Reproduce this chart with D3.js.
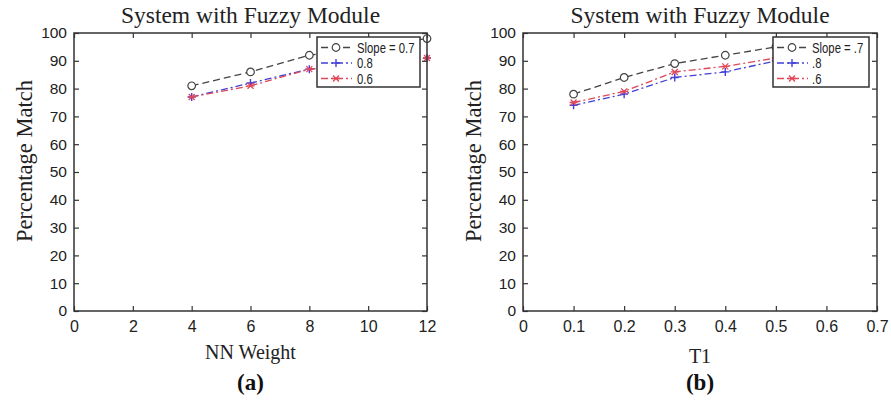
<!DOCTYPE html>
<html>
<head>
<meta charset="utf-8">
<script src="https://cdn.jsdelivr.net/npm/d3@7"></script>
<style>
  body { margin: 0; background: #fff; }
  svg { display: block; }
</style>
</head>
<body>
<svg id="chart" width="891" height="400"></svg>
<script>
// panel (a): NN weight
const weightX = [4, 6, 8, 10, 12];
const weightSlope07 = [81, 86, 92, 95, 98];
const weightSlope08 = [77, 82, 87, 89, 91];
const weightSlope06 = [77, 81, 87, 89, 91];
const weightTicks = [0, 2, 4, 6, 8, 10, 12];
const weightLegend = ['Slope = 0.7', '0.8', '0.6'];

// panel (b): T1
const t1X = [0.1, 0.2, 0.3, 0.4, 0.5];
const t1Slope07 = [78, 84, 89, 92, 95];
const t1Slope08 = [74, 78, 84, 86, 90];
const t1Slope06 = [75, 79, 86, 88, 91];
const t1Ticks = [0, 0.1, 0.2, 0.3, 0.4, 0.5, 0.6, 0.7];
const t1Legend = ['Slope = .7', '.8', '.6'];

const yTicks = [0, 10, 20, 30, 40, 50, 60, 70, 80, 90, 100];

const styles = [
  { color: '#444', dash: '7,4', marker: 'circle' },
  { color: '#4040d8', dash: '7,3,2,3', marker: 'plus' },
  { color: '#e0485a', dash: '7,3,2,3', marker: 'cross' }
];

const svg = d3.select('#chart');
const axisColor = '#333';
const sans = 'Liberation Sans, Arial, sans-serif';
const serif = 'Liberation Serif, Times New Roman, serif';

function drawMarker(g, type, color) {
  if (type === 'circle') {
    g.append('circle').attr('r', 3.8).attr('fill', '#fff')
      .attr('stroke', color).attr('stroke-width', 1.2);
  } else if (type === 'plus') {
    g.append('path').attr('d', 'M-4,0H4M0,-4V4')
      .attr('stroke', color).attr('stroke-width', 1.4);
  } else {
    g.append('path').attr('d', 'M-3,-3L3,3M-3,3L3,-3M-4,0H4')
      .attr('stroke', color).attr('stroke-width', 1.3);
  }
}

function drawPanel(opt) {
  const x = d3.scaleLinear().domain(opt.xDomain).range([opt.left, opt.right]);
  const y = d3.scaleLinear().domain([0, 100]).range([311, 33]);
  const g = svg.append('g');

  // series
  opt.series.forEach((vals, i) => {
    const st = styles[i];
    const pts = opt.xs.map((d, j) => [d, vals[j]]);
    g.append('path')
      .attr('d', d3.line().x(d => x(d[0])).y(d => y(d[1]))(pts))
      .attr('fill', 'none').attr('stroke', st.color)
      .attr('stroke-width', 1.3).attr('stroke-dasharray', st.dash);
    pts.forEach(p => {
      const m = g.append('g').attr('transform', `translate(${x(p[0])},${y(p[1])})`);
      drawMarker(m, st.marker, st.color);
    });
  });

  // axes with inward ticks, mirrored on top and right
  const bottom = g.append('g').attr('transform', 'translate(0,311)')
    .call(d3.axisBottom(x).tickValues(opt.xTicks).tickSizeInner(-5).tickSizeOuter(0).tickPadding(10).tickFormat(opt.fmt))
    .call(a => a.select('.domain').remove());
  g.append('g').attr('transform', 'translate(0,33)')
    .call(d3.axisTop(x).tickValues(opt.xTicks).tickSizeInner(-5).tickSizeOuter(0).tickFormat(''))
    .call(a => a.select('.domain').remove());
  const leftAx = g.append('g').attr('transform', `translate(${opt.left},0)`)
    .call(d3.axisLeft(y).tickValues(yTicks).tickSizeInner(-5).tickSizeOuter(0).tickPadding(7))
    .call(a => a.select('.domain').remove());
  g.append('g').attr('transform', `translate(${opt.right},0)`)
    .call(d3.axisRight(y).tickValues(yTicks).tickSizeInner(-5).tickSizeOuter(0).tickFormat(''))
    .call(a => a.select('.domain').remove());

  g.selectAll('.tick line').attr('stroke', axisColor).attr('stroke-width', 1.2);
  bottom.selectAll('.tick text').attr('font-family', sans).attr('font-size', 16).attr('fill', '#222');
  leftAx.selectAll('.tick text').attr('font-family', sans).attr('font-size', 15.5).attr('fill', '#222');

  g.append('rect').attr('x', opt.left).attr('y', 33)
    .attr('width', opt.right - opt.left).attr('height', 278)
    .attr('fill', 'none').attr('stroke', axisColor).attr('stroke-width', 1.5);

  // legend
  const lg = g.append('g').attr('transform', `translate(${opt.legX},37)`);
  lg.append('rect').attr('width', opt.legW).attr('height', 50)
    .attr('fill', '#fff').attr('stroke', axisColor).attr('stroke-width', 1.5);
  opt.legend.forEach((lab, i) => {
    const st = styles[i];
    const ly = 10.5 + i * 15.5;
    lg.append('line').attr('x1', 4).attr('x2', 35).attr('y1', ly).attr('y2', ly)
      .attr('stroke', st.color).attr('stroke-width', 1.3).attr('stroke-dasharray', st.dash);
    drawMarker(lg.append('g').attr('transform', `translate(19,${ly})`), st.marker, st.color);
    lg.append('text').attr('transform', `translate(${opt.legTx},${ly + 5}) scale(0.78,1)`)
      .attr('font-family', sans).attr('font-size', 14.5)
      .attr('fill', '#222').text(lab);
  });

  const cx = (opt.left + opt.right) / 2;
  g.append('text').attr('x', cx).attr('y', 23).attr('text-anchor', 'middle')
    .attr('font-family', serif).attr('font-size', 23.5).attr('fill', '#222')
    .text('System with Fuzzy Module');
  g.append('text').attr('x', cx).attr('y', opt.xLabY).attr('text-anchor', 'middle')
    .attr('font-family', serif).attr('font-size', 20).attr('fill', '#222')
    .text(opt.xLabel);
  g.append('text').attr('transform', `translate(${opt.left - 42},161) rotate(-90)`)
    .attr('text-anchor', 'middle')
    .attr('font-family', serif).attr('font-size', 22.5).attr('fill', '#222')
    .text('Percentage Match');
  g.append('text').attr('x', cx).attr('y', 390).attr('text-anchor', 'middle')
    .attr('font-family', serif).attr('font-size', 23).attr('font-weight', 'bold').attr('fill', '#111')
    .text(opt.tag);
}

drawPanel({
  left: 74, right: 427, xDomain: [0, 12], xs: weightX, xTicks: weightTicks,
  series: [weightSlope07, weightSlope08, weightSlope06], legend: weightLegend,
  legX: 317, legW: 103, legTx: 40, fmt: d3.format('d'), xLabel: 'NN Weight', xLabY: 359, tag: '(a)'
});

drawPanel({
  left: 523, right: 877, xDomain: [0, 0.7], xs: t1X, xTicks: t1Ticks,
  series: [t1Slope07, t1Slope08, t1Slope06], legend: t1Legend,
  legX: 773, legW: 96, legTx: 39, fmt: d => d === 0 ? '0' : d3.format('.1f')(d), xLabel: 'T1', xLabY: 363, tag: '(b)'
});
</script>
</body>
</html>
